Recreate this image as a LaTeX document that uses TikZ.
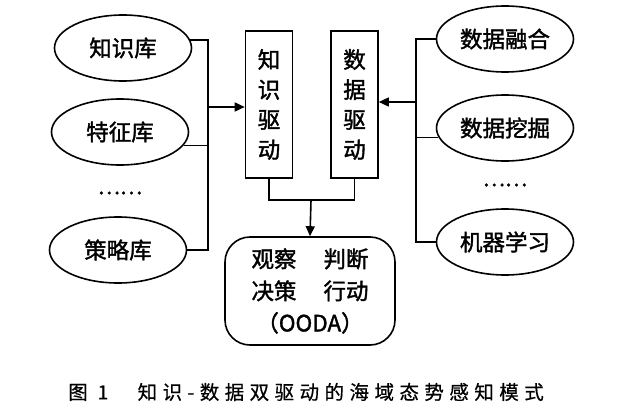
\documentclass[tikz,border=0pt]{standalone}
\usepackage{fontspec}
\setmainfont{Noto Sans CJK SC}[FakeBold=1.6]
\newfontfamily\capfont[LetterSpace=28,FakeBold=0.6]{Noto Sans CJK SC}
\usetikzlibrary{arrows.meta,shapes.geometric}
\tikzset{
  src/.style={ellipse, draw, line width=1.6pt, minimum width=137pt, minimum height=66pt, inner sep=0pt, font=\fontsize{22.5}{26}\selectfont},
  drv/.style={rectangle, draw, line width=1.6pt, minimum width=47pt, minimum height=147pt, inner sep=0pt, align=center, font=\fontsize{22.5}{30}\selectfont},
  >={Triangle[length=10pt,width=9pt]}
}
\begin{document}
\begin{tikzpicture}[x=1pt, y=-1pt, line width=1.6pt]
  \useasboundingbox (0,0) rectangle (623,412);
  % Knowledge sources
  \node[src] (zsk) at (123,48) {知识库};
  \node[src] (tzk) at (120,132) {特征库};
  \node[font=\fontsize{21}{25}\selectfont] (ldots) at (120,193) {……};
  \node[src] (clk) at (118,250) {策略库};
  % Data sources
  \node[src] (sjrh) at (505,39) {数据融合};
  \node[src] (sjwj) at (505,128) {数据挖掘};
  \node[font=\fontsize{21}{25}\selectfont] (rdots) at (505,185) {……};
  \node[src] (jqxx) at (505,242) {机器学习};
  % Drivers
  \node[drv] (zsqd) at (269,104.5) {知\\识\\驱\\动};
  \node[drv] (sjqd) at (354.5,104.5) {数\\据\\驱\\动};
  % OODA loop
  \node[draw, rounded corners=25pt, minimum width=170pt, minimum height=108pt, align=center,
        font=\fontsize{22.5}{32}\selectfont] (ooda) at (310,291)
        {观察\hspace{1.2em}判断\\决策\hspace{1.2em}行动\\（OODA）};
  \coordinate (lbus) at (208,107);
  \coordinate (rbus) at (416,102);
  \coordinate (join) at (311,200);
  % Connectors
  \draw (zsk.7) -| (lbus);
  \draw (clk.east) -| (lbus);
  \draw (tzk.-12) -- (tzk.-12 -| lbus);
  \draw[->] (lbus) -- (lbus -| zsqd.west);
  \draw (sjrh.west) -| (rbus);
  \draw (jqxx.west) -| (rbus);
  \draw (sjwj.-172) -- (sjwj.-172 -| rbus);
  \draw[->] (rbus) -- (rbus -| sjqd.east);
  \draw (zsqd.south) |- (join) -| (sjqd.south);
  \draw[->] (join) -- (ooda.north);
  % Caption
  \node[font=\capfont\fontsize{19.5}{19.5}\selectfont] (cap) at (306,392)
        {图 1\hspace{1.5em}知识-数据双驱动的海域态势感知模式};
\end{tikzpicture}
\end{document}
